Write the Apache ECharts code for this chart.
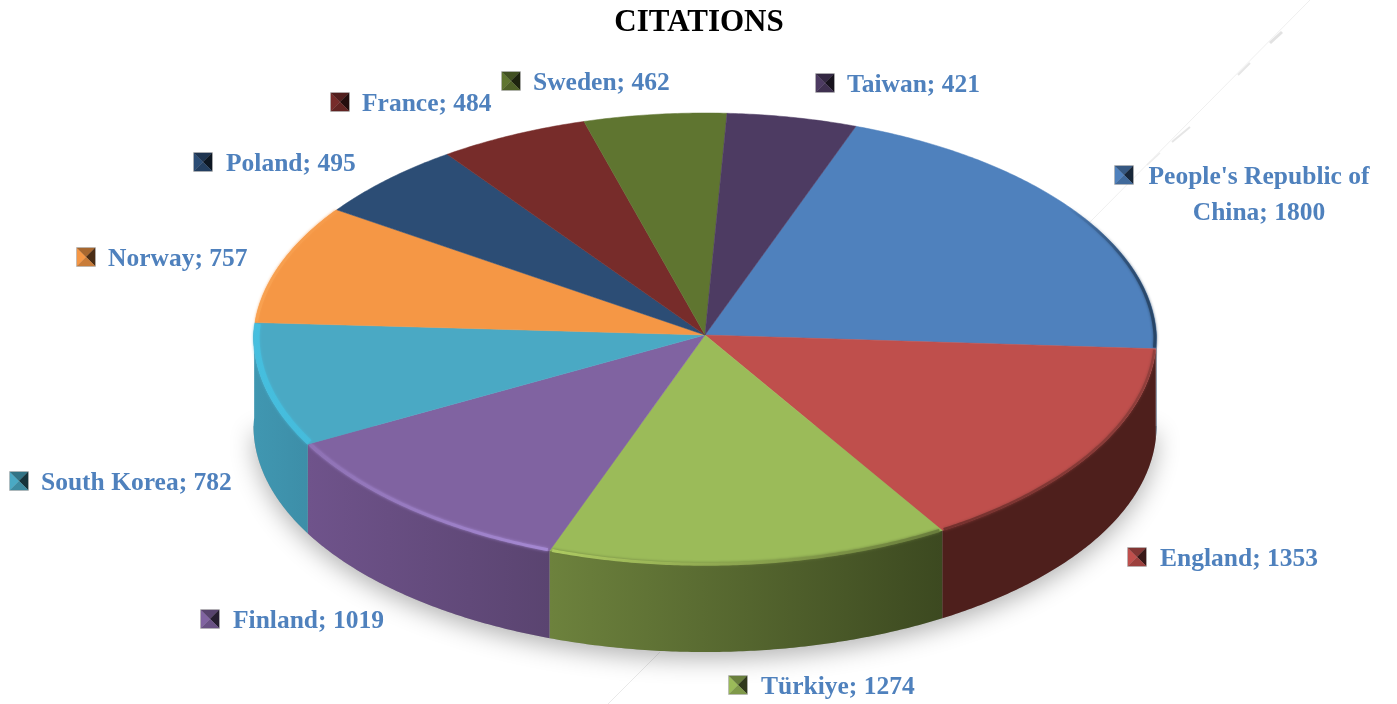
<!DOCTYPE html>
<html>
<head>
<meta charset="UTF-8">
<script src="https://cdn.jsdelivr.net/npm/echarts@6/dist/echarts.min.js"></script>
<style>
html, body { margin:0; padding:0; background:#fff; }
#chart { width:1397px; height:704px; }
</style>
</head>
<body><div id="chart"></div>
<script>
// values
var categories = ["People's Republic of\nChina", 'England', 'Türkiye', 'Finland', 'South Korea', 'Norway', 'Poland', 'France', 'Sweden', 'Taiwan'];
var citations = [1800, 1353, 1274, 1019, 782, 757, 495, 484, 462, 421];

var topColors = ['#4f81bd', '#bf4f4c', '#9bbb59', '#8063a1', '#4aa9c4', '#f59745', '#2c4d75', '#772c2a', '#5f7530', '#4d3b62'];
var wallColors = [
  ['#2f4d73', '#27405f'], ['#4e1f1c', '#4e1f1c'], ['#6d823d', '#3c4920'], ['#6f538b', '#5a4470'], ['#4097b1', '#3d8ea8'],
  ['#b06a30', '#b06a30'], ['#1f3753', '#1f3753'], ['#551f1e', '#551f1e'], ['#445422', '#445422'], ['#372a46', '#372a46']
];
// rim highlight: left colour, right colour, width
var rimStyles = [
  ['rgba(35,60,95,0)', '#24405f', 3], ['#6a2c29', '#8f3e3b', 2.5], ['#b6d466', '#66793a', 3], ['#8d70b2', '#a78bd6', 3], ['#45c0e0', '#45bcdc', 6],
  ['#f9a352', '#f69a4a', 3], null, null, null, null
];

// label anchors: key left, text left, middle y
var labelLayout = [
  [1115, 1259, 193], [1128, 1160, 557], [729, 761, 685], [201, 233, 619], [10, 41, 481],
  [77, 108, 257], [194, 226, 162], [331, 362, 102], [502, 533, 81], [816, 847, 83]
];

var CX = 705, CY = 339, APEX_Y = 335, RX = 451.5, RY = 226, DEPTH = 87, START = 20;
var total = citations.reduce(function (a, b) { return a + b; }, 0);

// rim point; the far side is pulled in a bit and the widest part sits higher (perspective)
function rim(deg, dy, k) {
  var t = deg * Math.PI / 180;
  var s = Math.sin(t), c = Math.cos(t);
  k = k || 1;
  var squeeze = 1 - 0.024 * Math.max(0, c);
  var lift = dy ? 0 : 3 * s * s;
  return [CX + RX * k * squeeze * s, CY + (dy || 0) - RY * k * c - lift];
}

function arc(a0, a1, dy, k) {
  var pts = [];
  var n = Math.max(2, Math.ceil((a1 - a0) * 2));
  for (var i = 0; i <= n; i++) pts.push(rim(a0 + (a1 - a0) * i / n, dy, k));
  return pts;
}

function hGrad(c0, c1) {
  return new echarts.graphic.LinearGradient(0, 0, 1, 0, [{ offset: 0, color: c0 }, { offset: 1, color: c1 }]);
}

function shade(color, f) {
  var c = echarts.color.parse(color);
  return 'rgb(' + Math.round(c[0] * f) + ',' + Math.round(c[1] * f) + ',' + Math.round(c[2] * f) + ')';
}

function keyIcon(x, y, color) {
  var s = 18, m = s / 2, top = y - m;
  var tri = function (pts, fill) {
    return { type: 'polygon', shape: { points: pts }, style: { fill: fill, stroke: fill, lineWidth: 0.3 } };
  };
  return [
    { type: 'rect', shape: { x: x - 0.5, y: top - 0.5, width: s + 1, height: s + 1 }, style: { fill: 'none', stroke: 'rgba(150,150,150,0.6)', lineWidth: 1 } },
    tri([[x, top], [x + m, y], [x, top + s]], color),
    tri([[x, top], [x + s, top], [x + m, y]], shade(color, 0.68)),
    tri([[x + s, top], [x + s, top + s], [x + m, y]], shade(color, 0.3)),
    tri([[x, top + s], [x + s, top + s], [x + m, y]], shade(color, 0.82))
  ];
}

function renderSlice(params, api) {
  var i = params.dataIndex;
  var before = citations.slice(0, i).reduce(function (a, b) { return a + b; }, 0);
  var a0 = START + before / total * 360;
  var a1 = a0 + api.value(0) / total * 360;
  var children = [];

  // side wall, only the part facing us
  var w0 = Math.max(a0, 90), w1 = Math.min(a1, 272);
  if (w1 > w0) {
    children.push({
      type: 'polygon',
      shape: { points: arc(w0, w1, 0).concat(arc(w0, w1, DEPTH).reverse()) },
      style: { fill: hGrad(wallColors[i][0], wallColors[i][1]) }
    });
  }

  // top face
  children.push({
    type: 'polygon',
    shape: { points: [[CX, APEX_Y]].concat(arc(a0, a1, 0)) },
    style: { fill: topColors[i], stroke: topColors[i], lineWidth: 0.5 }
  });

  // bevel along the rim
  var rs = rimStyles[i];
  if (rs) {
    var b0 = i === 0 ? 55 : a0 + 0.3, b1 = a1 - 0.3;
    children.push({
      type: 'polyline',
      shape: { points: arc(b0, b1, 0, 1 - rs[2] / 2 / RX) },
      style: { fill: 'none', stroke: hGrad(rs[0], rs[1]), lineWidth: rs[2], opacity: 0.85, shadowBlur: 3, shadowColor: rs[1] }
    });
  }

  // key and label
  var lay = labelLayout[i];
  children = children.concat(keyIcon(lay[0], i === 0 ? 175 : lay[2], topColors[i]));
  children.push({
    type: 'text',
    style: {
      text: categories[i] + '; ' + api.value(0),
      x: lay[1], y: lay[2] + 2.5,
      align: i === 0 ? 'center' : 'left', verticalAlign: 'middle',
      fill: '#4f81bd', font: 'bold 25.5px "Liberation Serif"', lineHeight: 36
    }
  });
  return { type: 'group', children: children };
}

// thin scan marks in the background of the original
var scratches = [
  [1310, 0, 1090, 222, 1, '#efefef'], [1282, 32, 1270, 43, 3, '#e2e2e2'], [1250, 63, 1238, 75, 2, '#e6e6e6'],
  [1190, 127, 1172, 142, 2, '#e6e6e6'], [1160, 153, 1147, 165, 1.5, '#ececec'], [660, 652, 608, 704, 1, '#e9e9e9']
];

var chart = echarts.init(document.getElementById('chart'));
chart.setOption({
  animation: false,
  backgroundColor: '#fff',
  title: {
    text: 'CITATIONS', left: 694, top: 2, textAlign: 'center',
    textStyle: { color: '#000', fontFamily: 'Liberation Serif', fontWeight: 'bold', fontSize: 31 }
  },
  graphic: scratches.map(function (s) {
    return { type: 'line', z: 0, silent: true, shape: { x1: s[0], y1: s[1], x2: s[2], y2: s[3] }, style: { stroke: s[5], lineWidth: s[4] } };
  }).concat([{
    // soft shadow under the body
    type: 'polygon', z: 1, silent: true,
    shape: { points: arc(90, 270, DEPTH) },
    style: { fill: '#aaa', shadowBlur: 24, shadowColor: 'rgba(0,0,0,0.3)', shadowOffsetY: 7 }
  }]),
  series: [{
    type: 'custom',
    coordinateSystem: 'none',
    z: 5,
    silent: true,
    renderItem: renderSlice,
    data: citations.map(function (v) { return [v]; })
  }]
});
</script>
</body>
</html>
